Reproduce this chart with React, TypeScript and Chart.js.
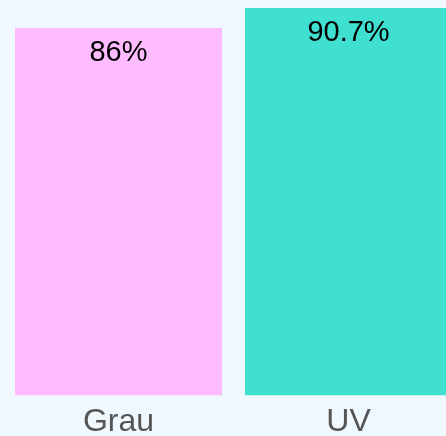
import React, { useEffect, useRef } from "react";
import { Chart, registerables } from "chart.js";

Chart.register(...registerables);

const categories = ["Grau", "UV"];
const values = [86, 90.7];
const valueLabels = ["86%", "90.7%"];
const barColors = ["#ffbbff", "#40e0d0"];

const FONT = "'Liberation Sans', Arial, sans-serif";

const labelPlugin = {
  id: "insideTopLabels",
  afterDatasetsDraw(chart: any) {
    const ctx = chart.ctx;
    const meta = chart.getDatasetMeta(0);
    ctx.save();
    ctx.font = `29px ${FONT}`;
    ctx.fillStyle = "#000000";
    ctx.textAlign = "center";
    ctx.textBaseline = "alphabetic";
    meta.data.forEach((el: any, i: number) => {
      ctx.fillText(valueLabels[i], el.x, el.y + 33);
    });
    ctx.restore();
  },
};

export default function App() {
  const ref = useRef<HTMLCanvasElement | null>(null);

  useEffect(() => {
    document.documentElement.style.overflow = "hidden";
    document.body.style.margin = "0";
    document.body.style.background = "#f0f8ff";
    const chart = new Chart(ref.current as HTMLCanvasElement, {
      type: "bar",
      data: {
        labels: categories,
        datasets: [
          {
            data: values,
            backgroundColor: barColors,
            borderWidth: 0,
            barPercentage: 0.9,
            categoryPercentage: 1,
          },
        ],
      },
      options: {
        animation: false,
        responsive: true,
        maintainAspectRatio: false,
        layout: { padding: { left: 3.5, right: 3.5, top: 8, bottom: 0 } },
        plugins: {
          legend: { display: false },
          tooltip: { enabled: false },
        },
        scales: {
          x: {
            grid: { display: false, drawTicks: false },
            border: { display: false },
            ticks: {
              color: "#555555",
              padding: 7,
              font: { family: FONT, size: 32 },
            },
          },
          y: {
            display: false,
            min: 0,
            max: 90.7,
          },
        },
      },
      plugins: [labelPlugin],
    });
    return () => chart.destroy();
  }, []);

  return (
    <div style={{ position: "absolute", left: 0, top: 0, width: 467, height: 448 }}>
      <canvas ref={ref} />
    </div>
  );
}
